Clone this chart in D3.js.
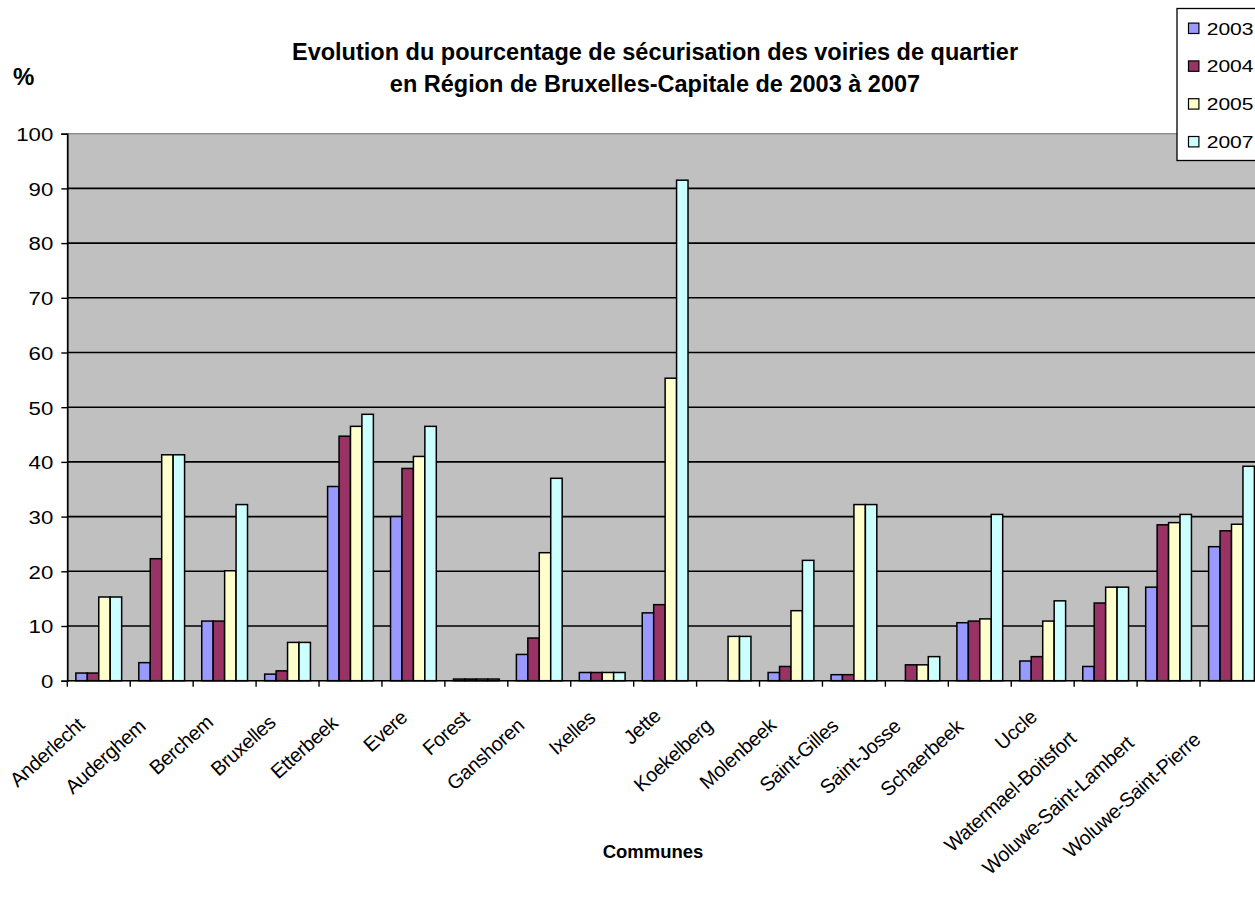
<!DOCTYPE html>
<html>
<head>
<meta charset="utf-8">
<script src="https://cdn.jsdelivr.net/npm/d3@7"></script>
<style>
  html, body { margin: 0; padding: 0; background: #fff; overflow: hidden; }
  svg { display: block; font-family: "Liberation Sans", Arial, sans-serif; }
</style>
</head>
<body>
<svg id="chart" width="1255" height="903"></svg>
<script>
const communes = ["Anderlecht","Auderghem","Berchem","Bruxelles","Etterbeek","Evere","Forest","Ganshoren","Ixelles","Jette","Koekelberg","Molenbeek","Saint-Gilles","Saint-Josse","Schaerbeek","Uccle","Watermael-Boitsfort","Woluwe-Saint-Lambert","Woluwe-Saint-Pierre"];
const years = ["2003","2004","2005","2007"];
const v2003 = [1.4, 3.3, 10.9, 1.2, 35.5, 30.0, 0.3, 4.8, 1.5, 12.4, 0, 1.5, 1.1, 0, 10.6, 3.6, 2.6, 17.1, 24.5];
const v2004 = [1.4, 22.3, 10.9, 1.8, 44.7, 38.8, 0.3, 7.8, 1.5, 13.9, 0, 2.6, 1.1, 2.9, 10.9, 4.4, 14.2, 28.5, 27.4];
const v2005 = [15.3, 41.3, 20.1, 7.0, 46.5, 41.0, 0.3, 23.4, 1.5, 55.3, 8.1, 12.8, 32.2, 2.9, 11.3, 10.9, 17.1, 28.9, 28.6];
const v2007 = [15.3, 41.3, 32.2, 7.0, 48.7, 46.5, 0.3, 37.0, 1.5, 91.5, 8.1, 22.0, 32.2, 4.4, 30.4, 14.6, 17.1, 30.4, 39.2];
const yTicks = [0,10,20,30,40,50,60,70,80,90,100];
const titleLines = ["Evolution du pourcentage de sécurisation des voiries de quartier", "en Région de Bruxelles-Capitale de 2003 à 2007"];
const yLabel = "%";
const xLabel = "Communes";

const seriesValues = [v2003, v2004, v2005, v2007];
const colors = ["#9999FF", "#993366", "#FFFFCC", "#CCFFFF"];

const svg = d3.select("#chart");
svg.append("rect").attr("width", 1255).attr("height", 903).attr("fill", "#fff");

const pL = 67.3, pT = 133.7, pB = 680.7, bandStep = 62.93;
const pR = pL + bandStep * communes.length;

const x0 = d3.scaleBand().domain(communes).range([pL, pR]).padding(0);
const x1 = d3.scaleBand().domain(years).range([0, x0.bandwidth()]).paddingInner(0).paddingOuter(0.75);
const y = d3.scaleLinear().domain([0, 100]).range([pB, pT]);

// plot background
svg.append("rect").attr("x", pL).attr("y", pT).attr("width", pR - pL).attr("height", pB - pT)
  .attr("fill", "#C0C0C0").attr("stroke", "#808080").attr("stroke-width", 1.2);

// gridlines
svg.append("g").selectAll("line").data(yTicks.filter(t => t > 0 && t < 100)).join("line")
  .attr("x1", pL).attr("x2", pR).attr("y1", d => y(d)).attr("y2", d => y(d))
  .attr("stroke", "#000").attr("stroke-width", 1.6);

// bars
const groups = svg.append("g").selectAll("g").data(communes).join("g")
  .attr("transform", d => `translate(${x0(d)},0)`);
groups.selectAll("rect").data((c, i) => years.map((yr, s) => ({yr, s, v: seriesValues[s][i]})).filter(d => d.v > 0))
  .join("rect")
  .attr("x", d => x1(d.yr)).attr("width", x1.bandwidth())
  .attr("y", d => y(d.v)).attr("height", d => y(0) - y(d.v))
  .attr("fill", d => colors[d.s]).attr("stroke", "#000").attr("stroke-width", 1.5);

// y axis (ticks via d3 axis, labels re-styled with wider digits)
const yAxis = svg.append("g").attr("transform", `translate(${pL},0)`)
  .call(d3.axisLeft(y).tickValues(yTicks).tickSize(6).tickPadding(8));
yAxis.select(".domain").attr("stroke", "#000").attr("stroke-width", 1.6);
yAxis.selectAll(".tick line").attr("stroke", "#000").attr("stroke-width", 1.4);
yAxis.selectAll(".tick text")
  .attr("x", null).attr("dy", "0.36em")
  .attr("text-anchor", "end")
  .attr("transform", "translate(-14,0) scale(1.17,1)")
  .attr("font-size", 19).attr("fill", "#000")
  .attr("font-family", "Liberation Sans, Arial, sans-serif");

// x axis
const xAxisG = svg.append("g").attr("transform", `translate(0,${pB})`);
xAxisG.append("line").attr("x1", pL).attr("x2", pR).attr("y1", 0).attr("y2", 0)
  .attr("stroke", "#000").attr("stroke-width", 1.6);
xAxisG.selectAll("line.tk").data(communes).join("line").attr("class", "tk")
  .attr("x1", d => x0(d)).attr("x2", d => x0(d)).attr("y1", 0).attr("y2", 6)
  .attr("stroke", "#000").attr("stroke-width", 1.4);
const ang = 42, ca = Math.cos(ang * Math.PI / 180), sa = Math.sin(ang * Math.PI / 180);
const xl = xAxisG.selectAll("text").data(communes).join("text")
  .attr("text-anchor", "end").attr("font-size", 20).attr("letter-spacing", -0.4)
  .attr("fill", "#000").text(d => d);
xl.each(function(d) {
  const L = this.getComputedTextLength();
  const s = 0.267 * L;
  const cx = x0(d) + x0.bandwidth() / 2;
  d3.select(this).attr("transform", `translate(${cx + 5 - ca * s},${29.6 + sa * s}) rotate(${-ang})`);
});

// titles
svg.append("g").selectAll("text").data(titleLines).join("text")
  .attr("x", 655).attr("y", (d, i) => 60 + i * 32)
  .attr("text-anchor", "middle").attr("font-weight", "bold").attr("font-size", 23.5)
  .text(d => d);
svg.append("text").attr("x", 13).attr("y", 85).attr("font-weight", "bold").attr("font-size", 24).text(yLabel);
svg.append("text").attr("x", 653).attr("y", 858).attr("text-anchor", "middle")
  .attr("font-weight", "bold").attr("font-size", 18.5).text(xLabel);

// legend
const lg = svg.append("g");
lg.append("rect").attr("x", 1177).attr("y", 8.5).attr("width", 100).attr("height", 152)
  .attr("fill", "#fff").attr("stroke", "#000").attr("stroke-width", 1.3);
const li = lg.selectAll("g").data(years).join("g")
  .attr("transform", (d, i) => `translate(1188.5,${28.3 + i * 37.8})`);
li.append("rect").attr("x", 0).attr("y", -5.2).attr("width", 10.4).attr("height", 10.4)
  .attr("fill", (d, i) => colors[i]).attr("stroke", "#000").attr("stroke-width", 1.2);
li.append("text").attr("transform", "translate(18.2,6.3) scale(1.24,1)")
  .attr("font-size", 17).text(d => d);
</script>
</body>
</html>
